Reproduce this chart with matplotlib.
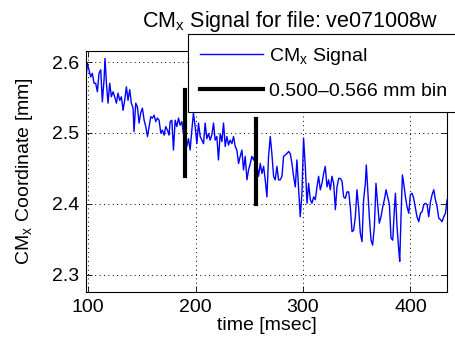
import matplotlib
matplotlib.use("Agg")
import matplotlib.pyplot as plt

plt.rcParams['font.family'] = ['Liberation Sans', 'DejaVu Sans']
plt.rcParams['mathtext.fontset'] = 'custom'
plt.rcParams['mathtext.rm'] = 'Liberation Sans'
plt.rcParams['mathtext.it'] = 'Liberation Sans:italic'

time_ms = [97.7, 99.3, 100.8, 102.4, 103.9, 105.5, 107.0, 108.6, 110.1, 111.7,
           113.2, 114.8, 115.7, 117.0, 118.5, 120.1, 121.6, 123.2, 124.7, 126.3,
           127.8, 129.4, 130.9, 132.5, 134.0, 135.6, 137.1, 138.7, 140.2, 141.8,
           142.7, 144.3, 145.8, 147.4, 148.9, 150.5, 152.1, 153.6, 155.2, 156.7,
           158.3, 159.8, 161.4, 162.9, 164.5, 166.0, 167.6, 169.1, 170.7, 172.2,
           173.8, 175.3,
           176.3, 177.9, 179.4, 181.0, 182.5, 184.1, 185.6, 187.2, 188.7, 191.8,
           193.4, 194.9, 196.5, 198.0, 199.6, 201.2, 202.7, 204.3, 205.8, 207.4,
           208.9, 210.5, 212.0, 213.6, 215.1, 216.7, 218.2, 219.8, 221.3, 222.9,
           224.5, 226.0, 227.6, 229.1, 230.7, 232.2, 233.8, 235.3, 236.9, 238.4,
           240.0, 241.5, 243.1, 244.6, 246.2, 247.8, 249.3, 250.9, 252.4, 254.0,
           255.5, 258.6, 260.2, 261.7, 263.3, 264.8, 266.4, 267.9, 269.5, 271.0,
           272.6, 274.1, 275.7, 277.2, 278.8, 280.4, 281.9, 283.5, 285.0, 286.6,
           288.1, 289.7, 291.2, 292.8, 294.3, 295.9, 297.4, 299.0, 300.5, 302.1,
           303.7, 305.2, 306.8, 308.3, 309.9, 311.4, 313.0, 314.5, 316.1, 317.6,
           319.2, 320.7, 322.3, 323.8, 325.4, 326.9, 328.5, 330.1, 331.6, 333.2,
           334.7, 336.3, 337.8, 339.4, 340.9, 342.5, 344.0, 345.6, 347.1, 348.7,
           350.2, 351.8, 353.3, 354.9, 356.4, 358.0, 358.9, 360.2, 361.7, 363.3,
           364.8, 366.4, 367.9, 369.5, 371.0, 372.6, 374.2, 375.7, 377.3, 378.8,
           380.4, 381.9, 383.5, 385.0, 386.0, 387.5, 389.1, 390.0, 391.2, 392.5,
           393.7, 395.3, 396.8, 398.4, 399.9, 401.5, 403.0, 404.6, 406.1, 407.7,
           409.3, 410.8, 412.4, 413.9, 415.5, 417.0, 418.6, 420.1, 421.7, 423.2,
           424.8, 426.3, 427.9, 429.4, 431.0, 432.6, 434.1]

cm_x = [2.572, 2.598, 2.589, 2.579, 2.584, 2.570, 2.570, 2.558, 2.584, 2.589,
        2.544, 2.575, 2.605, 2.570, 2.542, 2.570, 2.551, 2.558, 2.551, 2.542,
        2.556, 2.546, 2.551, 2.532, 2.546, 2.565, 2.546, 2.561, 2.542, 2.535,
        2.502, 2.542, 2.537, 2.514, 2.528, 2.535, 2.518, 2.509, 2.495, 2.509,
        2.523, 2.521, 2.525, 2.516, 2.521, 2.518, 2.500, 2.504, 2.497, 2.509,
        2.504, 2.497,
        2.516, 2.518, 2.476, 2.518, 2.509, 2.521, 2.511, 2.516, 2.499, 2.481,
        2.492, 2.476, 2.504, 2.528, 2.509, 2.485, 2.514, 2.495, 2.490, 2.485,
        2.514, 2.492, 2.499, 2.490, 2.497, 2.514, 2.490, 2.495, 2.462, 2.499,
        2.488, 2.514, 2.481, 2.495, 2.483, 2.490, 2.485, 2.495, 2.481, 2.476,
        2.457, 2.467, 2.476, 2.448, 2.467, 2.434, 2.448, 2.457, 2.467, 2.462,
        2.471, 2.439, 2.457, 2.443, 2.453, 2.434, 2.410, 2.467, 2.495, 2.471,
        2.439, 2.434, 2.453, 2.434, 2.434, 2.439, 2.467, 2.469, 2.471, 2.474,
        2.471, 2.457, 2.439, 2.424, 2.462, 2.420, 2.382, 2.415, 2.493, 2.453,
        2.401, 2.429, 2.406, 2.401, 2.410, 2.406, 2.424, 2.439, 2.420, 2.429,
        2.443, 2.453, 2.424, 2.434, 2.420, 2.439, 2.429, 2.392, 2.424, 2.436,
        2.436, 2.432, 2.410, 2.408, 2.417, 2.417, 2.396, 2.361, 2.363, 2.382,
        2.420, 2.394, 2.359, 2.347, 2.406, 2.429, 2.455, 2.420, 2.382, 2.349,
        2.342, 2.368, 2.429, 2.399, 2.373, 2.382, 2.396, 2.406, 2.420, 2.410,
        2.399, 2.352, 2.349, 2.392, 2.415, 2.368, 2.335, 2.319, 2.382, 2.441,
        2.429, 2.410, 2.396, 2.387, 2.413, 2.415, 2.408, 2.394, 2.382, 2.375,
        2.387, 2.389, 2.399, 2.401, 2.399, 2.382, 2.403, 2.413, 2.420, 2.406,
        2.396, 2.380, 2.378, 2.375, 2.382, 2.387, 2.406]

bin_times = [190.3, 256.4]
bin_lo = [2.439, 2.400]
bin_hi = [2.561, 2.520]

x_ticks = [100, 200, 300, 400]
y_ticks = [2.3, 2.4, 2.5, 2.6]

fig = plt.figure(figsize=(4.56, 3.48), dpi=100)
ax = fig.add_axes([86/456, 1-292/348, 361/456, 241/348])

line, = ax.plot(time_ms, cm_x, color=(0, 0, 1), lw=1.0, label='CM$_\\mathrm{x}$ Signal')
for i, (t, lo, hi) in enumerate(zip(bin_times, bin_lo, bin_hi)):
    ax.plot([t, t], [lo, hi], color='k', lw=3,
            label='0.500–0.566 mm bin' if i == 0 else None)

ax.set_xlim(98, 434)
ax.set_ylim(2.276, 2.6155)
ax.set_xticks(x_ticks)
ax.set_yticks(y_ticks)
ax.set_yticklabels([f'{v:.1f}' for v in y_ticks])
ax.tick_params(direction='in', length=4, width=0.6, top=True, right=True,
               labelsize=14, pad=5)
ax.grid(True, color='k', linestyle=(0, (1, 3.5)), linewidth=0.7)
for s in ax.spines.values():
    s.set_linewidth(0.8)

ax.set_xlabel('time [msec]', fontsize=14, labelpad=1)
ax.set_ylabel('CM$_\\mathrm{x}$ Coordinate [mm]', fontsize=14, labelpad=12)
ax.text((290-86)/361, (292-27)/241, 'CM$_\\mathrm{x}$ Signal for file: ve071008w',
        transform=ax.transAxes, ha='center', va='baseline', fontsize=15.5)

leg = ax.legend(loc='upper left', bbox_to_anchor=((188-86)/361, (292-34)/241),
                borderaxespad=0, fontsize=14, handlelength=3.25, frameon=True,
                fancybox=False, framealpha=1, edgecolor='k', labelspacing=0.8,
                borderpad=0.6, handletextpad=0.3)
leg.get_frame().set_linewidth(0.8)
leg.set_clip_on(False)

fig.savefig('out.png', dpi=100)
